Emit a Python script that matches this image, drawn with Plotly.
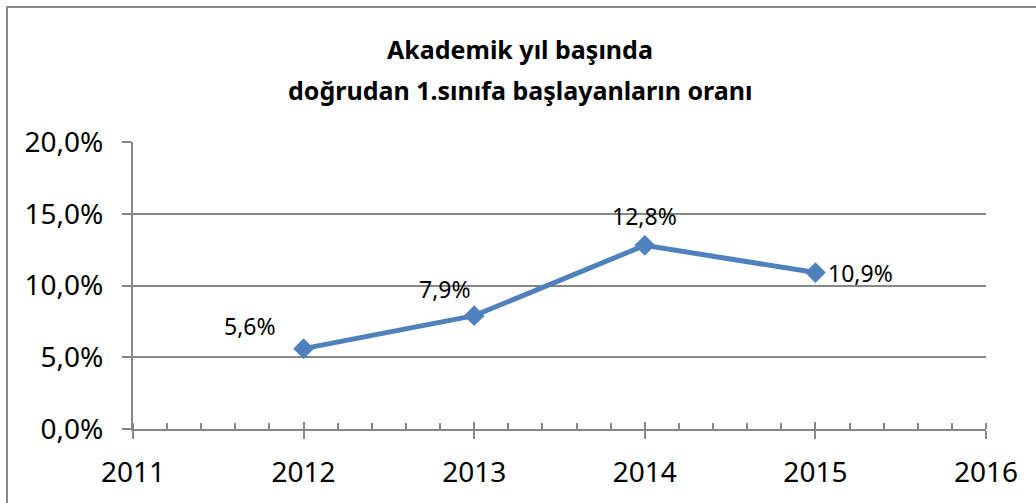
import plotly.graph_objects as go

years = [2012, 2013, 2014, 2015]
rates = [5.6, 7.9, 12.8, 10.9]
label_shift_x = [-54, -29, 0, 45]
label_shift_y = [23, 27, 29, 0]
y_ticks = [0, 5, 10, 15, 20]
x_ticks = [2011, 2012, 2013, 2014, 2015, 2016]
title_lines = ["Akademik yıl başında", "doğrudan 1.sınıfa başlayanların oranı"]


def pct(v):
    return f"{v:.1f}%".replace(".", ",")


W, H = 1036, 503
L, R, T, B = 133, W - 986, 142, H - 429
pw, ph = W - L - R, H - T - B

FONT = "Noto Sans"
GRID = "#878787"
BLUE = "#4F81BD"

fig = go.Figure()
fig.add_trace(go.Scatter(
    x=years, y=rates, mode="lines+markers",
    line=dict(color=BLUE, width=5),
    marker=dict(symbol="diamond", size=16, color=BLUE),
    hoverinfo="skip", showlegend=False,
))
fig.add_trace(go.Scatter(
    x=years, y=rates, mode="markers", xaxis="x2",
    marker=dict(size=1, opacity=0), hoverinfo="skip", showlegend=False,
))

for x, y, dx, dy in zip(years, rates, label_shift_x, label_shift_y):
    fig.add_annotation(
        x=x, y=y, text=pct(y), showarrow=False,
        xshift=dx, yshift=dy, font=dict(family=FONT, size=23, color="black"),
    )

# two-line title
for line, py in zip(title_lines, [49, 90]):
    fig.add_annotation(
        xref="paper", yref="paper", x=(520 - L) / pw, y=(429 - py) / ph,
        xanchor="center", yanchor="middle", text=f"<b>{line}</b>",
        showarrow=False, font=dict(family=FONT, size=25, color="black"),
    )

# outer chart border
fig.add_shape(
    type="rect", xref="paper", yref="paper",
    x0=(7 - L) / pw, x1=(W + 20 - L) / pw,
    y0=-(H + 20 - 429) / ph, y1=(429 - 7) / ph,
    line=dict(color="#8C8C8C", width=2), layer="below",
)

fig.update_layout(
    width=W, height=H,
    margin=dict(l=L, r=R, t=T, b=B),
    paper_bgcolor="white", plot_bgcolor="white",
    xaxis=dict(
        range=[2011, 2016], tickvals=x_ticks, ticktext=[str(v) for v in x_ticks],
        showgrid=False, zeroline=False,
        showline=True, linecolor=GRID, linewidth=2,
        ticks="outside", ticklen=8, tickwidth=2, tickcolor=GRID,
        minor=dict(dtick=0.2, tick0=2011, ticks="inside", ticklen=6,
                   tickwidth=1.5, tickcolor=GRID, showgrid=False),
        tickfont=dict(family=FONT, size=28, color="black"),
        ticklabelstandoff=9,
    ),
    xaxis2=dict(
        range=[2011, 2016], overlaying="x", tickvals=x_ticks,
        showticklabels=False, showgrid=False, zeroline=False, showline=False,
        ticks="inside", ticklen=7, tickwidth=2, tickcolor=GRID, anchor="y",
    ),
    yaxis=dict(
        range=[0, 20], tickvals=y_ticks, ticktext=[pct(v) for v in y_ticks],
        showgrid=True, gridcolor=GRID, gridwidth=1.5, zeroline=False,
        showline=True, linecolor=GRID, linewidth=2,
        ticks="outside", ticklen=9, tickwidth=1.5, tickcolor=GRID,
        tickfont=dict(family=FONT, size=28, color="black"),
        ticklabelstandoff=13,
    ),
)

fig.write_html("out.html")
